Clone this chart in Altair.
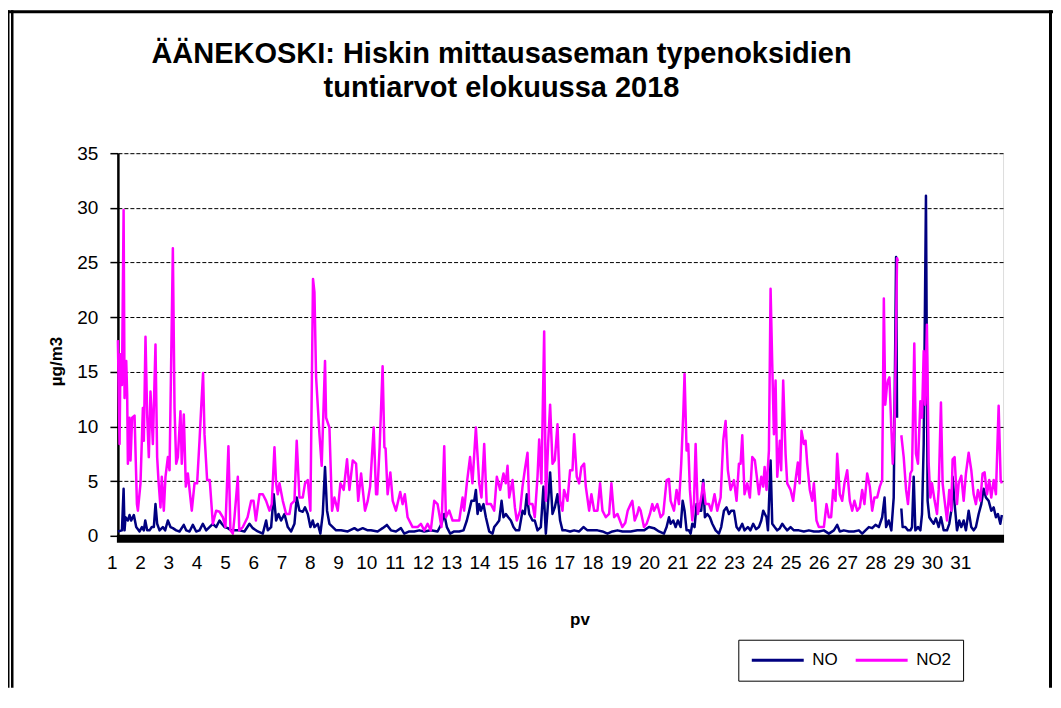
import altair as alt
import pandas as pd

# ---------------- data (hour of month, value µg/m3) ----------------
NO_H = [0, 3.4, 4.8, 5.6, 6.4, 8.4, 9.8, 11.2, 13.4, 15.4, 18.2, 20.2, 21.8, 23, 24.6, 26.6, 28.5, 30.2, 31.6, 33, 35, 37.8, 39.7, 42, 44.2, 46.2, 49, 51.8, 55.4, 57.4, 60.2, 63, 65.8, 68.6, 71.4, 74.2, 77, 79.8, 82.6, 85.4, 87.3, 89.6, 92.4, 95.2, 99.4,
        102.2, 106.4, 110.6, 113.4, 117.6, 121.8, 124.6, 126, 128.8, 131, 133, 135, 137.2, 140, 142.8, 145.6, 148.4, 150.3, 152.6, 155.4, 157.3, 159.6, 161.8, 163.8, 165.2, 168, 170.2, 172.2, 174.1, 175.8, 177.8, 180.6, 183.4, 187.6, 193.2, 198.8, 201.6, 205.8, 210,
        212.7, 218.3, 222.5, 226.1, 229.5, 233.7, 237.9, 240.7, 244.9, 249.1, 253.3, 257.5, 263.1, 268.7, 272, 274.3, 276.5, 279.3, 282.7, 286.9, 290.5, 293.3, 295.3, 297.2, 299.5, 300.9, 302.3, 303.7, 305.1, 307.3, 309.3, 312.1, 314.9,
        316.3, 318.5, 320.5, 322.5, 324.1, 326.1, 328.1, 330.3, 332.5, 334.5, 337.3, 340.1, 342, 343.7, 345.7, 348.5, 350.4, 352.7, 355.5, 357.7, 359.7, 361.1, 363.3, 365.3, 367.2, 369.5, 371.7, 373.7, 376.5, 380.1, 383.5, 387.7, 391.3, 394.7, 398.9, 403.1, 407.3, 411.5, 415.7, 419.9, 424.1,
        428.3, 431, 436.6, 442.2, 446.4, 450.6, 454.8, 459, 461.2, 463.2, 464.6, 466.8, 468.8, 470.7, 473, 474.7, 476.3, 478, 480, 481.4, 482.8, 484.7, 486.4, 488.4, 490.3, 492, 493.4, 495.4, 497.6, 499.6, 502.4, 505.2, 507.1, 509.4, 511.6, 513.6, 515.5, 517.8, 520, 522, 524.8, 526.7, 529.5, 531.7, 534, 536.4,
        538.8, 540.8, 542.4, 543.8, 545.2, 546.4, 548.6, 550, 552, 554.2, 556.4, 558.4, 560.3, 562.6, 565.4, 568.2, 572.4, 576.6, 580.8, 585, 589.2, 593.4, 597.6, 601.8, 604.6, 606.8, 610.2, 614.4, 618.6, 622.8, 625.6, 628.4, 631.2, 634, 636.8, 639.6, 642.4, 644.4, 645.7, 647.9, 650.1, 652.1, 654.1, 654.9,
        658.5, 659.6, 661.9, 664.1, 666.1, 667.5, 668.9, 670.3, 672.5, 674.5, 675.9, 677.3, 679.2, 680.6, 682, 683.7, 685.7, 687.6, 689.9, 691.8, 694.1, 696.9, 698.8, 700.5, 701.6, 703.3, 705.3, 707.2, 708.9, 710.9, 712.8, 715.1, 717.3, 719.3, 721.2, 723.5, 725.7, 727.7, 729.6, 731.9, 734.1, 736.1, 738, 739.7, 741.7, 743]
NO_V = [0.4, 0.5, 4.3, 0.5, 1.7, 1.4, 1.9, 1.4, 1.9, 0.8, 0.4, 0.8, 0.5, 1.4, 0.5, 0.5, 0.8, 0.8, 2.9, 1.1, 0.5, 0.8, 0.5, 1.4, 0.8, 0.7, 0.5, 0.4, 1.0, 0.5, 0.4, 1.0, 0.4, 0.5, 1.1, 0.5, 0.8, 1.1, 0.8, 1.4, 1.1, 0.8, 0.7, 0.5, 0.5,
        0.5, 0.4, 1.1, 0.7, 0.4, 0.2, 1.4, 0.5, 0.8, 3.8, 1.4, 2.0, 1.4, 2.0, 0.8, 0.4, 1.1, 3.5, 2.3, 2.2, 2.6, 2.0, 0.8, 1.4, 0.8, 1.1, 0.2, 2.0, 6.3, 2.3, 1.1, 0.8, 0.5, 0.5, 0.4, 0.7, 0.5, 0.7, 0.5,
        0.5, 0.4, 0.7, 1.0, 0.5, 0.4, 0.7, 0.2, 0.4, 0.4, 0.5, 0.4, 0.5, 0.4, 1.1, 2.0, 0.8, 0.2, 0.4, 0.4, 0.5, 1.4, 2.3, 3.2, 3.2, 4.2, 2.0, 2.9, 2.3, 2.9, 1.7, 0.4, 0.2,
        0.8, 1.1, 1.4, 3.2, 1.7, 2.0, 1.7, 1.4, 0.8, 0.5, 0.5, 2.3, 2.0, 3.8, 2.0, 1.4, 1.4, 0.5, 0.8, 4.5, 0.2, 2.3, 5.8, 2.0, 2.6, 3.8, 1.4, 0.5, 0.5, 0.4, 0.5, 0.4, 0.8, 0.5, 0.5, 0.5, 0.4, 0.2, 0.4, 0.5, 0.4,
        0.4, 0.4, 0.5, 0.5, 0.8, 0.7, 0.4, 0.2, 0.8, 1.7, 1.1, 1.4, 0.8, 1.4, 0.8, 3.2, 2.3, 0.5, 0.5, 0.2, 1.1, 0.8, 2.9, 2.3, 2.3, 5.1, 1.7, 2.0, 1.7, 1.1, 0.5, 0.2, 0.8, 2.3, 2.6, 2.0, 2.3, 2.3, 0.8, 0.5, 1.1, 0.5, 0.8, 0.5, 1.1, 0.6,
        0.8, 1.4, 2.3, 2.0, 1.7, 0.5, 6.9, 1.1, 0.8, 0.5, 0.7, 1.1, 0.8, 0.5, 0.8, 0.5, 0.5, 0.4, 0.5, 0.4, 0.4, 0.5, 0.2, 0.5, 1.0, 0.4, 0.5, 0.4, 0.4, 0.5, 0.2, 0.5, 0.8, 0.7, 1.0, 0.8, 1.7, 3.5, 0.8, 1.4, 0.5, 3.5, 25.5, 10.8,
        2.5, 0.8, 0.8, 0.5, 0.5, 0.8, 5.4, 0.5, 0.8, 0.5, 2.0, 8.4, 31.1, 3.2, 1.7, 1.4, 1.1, 1.6, 0.8, 1.7, 0.5, 0.5, 1.1, 2.3, 5.4, 2.9, 0.5, 1.4, 0.8, 1.4, 0.5, 2.3, 0.8, 0.5, 0.8, 2.0, 2.9, 4.3, 3.5, 3.2, 2.3, 2.6, 1.7, 2.0, 1.1, 1.9]

NO2_H = [0, 1.4, 2.2, 3.4, 4.8, 5.6, 7, 7.8, 8.4, 9.8, 10.6, 12, 14, 16, 16.8, 19, 21, 21.8, 23.2, 24.6, 26, 27.4, 29.4, 31.6, 33, 34.1, 35.8, 36.9, 38.6, 40, 42, 43.4, 46.2, 47.6, 49, 50.4, 52.6, 53.7, 55.4, 57.1, 58.8, 62.1, 64.4, 66.6, 68.6, 70, 71.6, 72.8, 75, 77.2, 79.8, 82.6, 85.4, 88.2, 90.4, 92.9, 94.6, 96.6,
         98, 100.8, 102, 105, 109, 112, 114, 116, 119, 121.8, 124.6, 127.4, 129.3, 131.6, 133, 134.4, 135.8, 138.6, 141.4, 144.2, 145.6, 148.4, 150.3, 152.6, 155.4, 157.3, 159.6, 161.8, 164, 165.2, 166.6, 169.4, 171.3, 174.1, 175, 177.8, 180, 182, 184.8, 187, 189.8, 192.6, 194.6, 197.4, 200.2, 202, 204.4, 207.7,
         210, 212, 215, 217, 218, 220, 222.5, 224, 225, 226.7, 229, 231, 233.7, 237.3, 239.3, 241.2, 243.5, 247.7, 251.9, 254.7, 257.5, 260.3, 263, 265.9, 268.7, 272, 274.3, 275.7, 278.5, 281.3, 284, 286.9, 289.7, 291, 293.3, 296, 298, 300.9, 303.7, 305.6, 307.9, 310, 313.5,
         316.3, 318.5, 321.3, 324.1, 326, 327.5, 328.9, 331.7, 333.7, 335.3, 338.1, 340.1, 342, 344.3, 345.7, 348.5, 350.4, 352.7, 354.1, 356, 358.3, 359.7, 361.6, 363.3, 365.3, 367.2, 369.5, 371.7, 373.7, 375, 377.9, 380.1, 382.1, 383.5, 385.7, 387.7, 389.6, 391.9, 393.3, 396.1, 398, 400.3, 403.1, 405.3, 407.3, 410.1, 412.9, 414.8, 417.1, 419.9, 424,
         426.5, 428.5, 431, 432.4, 434.4, 436.6, 438, 439.4, 442.2, 444.4, 447.2, 449.2, 450.6, 453.4, 456.2, 458.4, 461.2, 463.2, 464.6, 467.4, 469.6, 471.6, 473.5, 475.2, 476.3, 478, 479.4, 480.8, 482.8, 484.2, 485.6, 487.5, 489.8, 492, 494, 496.8, 498.7, 501.5, 503.8, 506.6, 508.8, 510.8, 512.7, 515, 517.8, 520, 522, 523.4, 524.8, 526.7, 529, 531.2, 533.2, 535.4,
         538.8, 540.8, 542.4, 543.6, 545.2, 547.2, 548.6, 550, 551.4, 552.8, 554.2, 556.4, 557.5, 559.2, 561.2, 562.6, 565.4, 567.6, 569.6, 571.5, 573, 574.6, 576.6, 578, 579.4, 581.6, 583.6, 585, 587.2, 589.2, 593.4, 595.6, 597.6, 599.5, 601.2, 603.2, 604.6, 606.8, 608.8, 610.7, 613, 615.2, 617.2, 619.1, 621.4, 623.6, 625.6, 627.5, 629.8, 632, 634, 635.9, 638.2, 640.4, 642.4,
         643.8, 645, 646.5, 647.3, 648.5, 650.1, 651.3, 653, 654.9, 655.7,
         658.5, 660.5, 662.5, 664.1, 666.1, 667.5, 669.4, 670.8, 672.5, 674.5, 675.9, 677.3, 678.5, 680, 681.5, 682.9, 684.3, 686.5, 688.5, 689.9, 691.8, 693.2, 694.9, 696.9, 698.8, 700.5, 701.6, 703.3, 705.3, 706.7, 708.9, 710.9, 712.8, 715.1, 717.3, 719.3, 721.2, 722.9, 724.9, 726.8, 728.5, 730.5, 732.4, 734.1, 736.1, 738, 740.3, 742, 743]
NO2_V = [17.9, 8.4, 16.6, 13.8, 29.8, 12.6, 16, 12.9, 6.6, 10.8, 6.9, 10.8, 11, 2.9, 2.3, 4.8, 11.7, 8.7, 18.2, 11.1, 7.2, 13.2, 8.4, 17.5, 7.2, 5.1, 2.6, 5.4, 2.3, 5.4, 7.2, 6, 26.3, 11.7, 6.6, 7.2, 11.4, 6.6, 11.1, 4.5, 5.7, 2.3, 4.8, 4.8, 8.7, 11.7, 14.9, 9.3, 5.1, 5.1, 1.1, 2.3, 2.2, 1.7, 0.8, 8.2, 0.5, 0.2,
         1.7, 5.4, 0.5, 0.8, 1.7, 3.2, 3.2, 1.4, 3.8, 3.8, 3.2, 2.3, 2.9, 8.1, 4.8, 3.8, 4.8, 3.2, 2.0, 2.0, 2.9, 3.2, 8.7, 3.5, 3.5, 4.8, 5.1, 2.3, 23.5, 22.3, 14.5, 9.3, 6.4, 16, 10.8, 9.9, 2.3, 3.5, 2.3, 4.8, 4.2, 7.0, 4.2, 6.9, 6.6, 3.2, 5.7, 2.3,
         3.2, 4.5, 9.9, 3.8, 3.8, 8.1, 15.5, 8.1, 8.0, 3.8, 5.8, 3.2, 2.3, 4.0, 2.9, 3.8, 1.7, 0.8, 0.8, 1.1, 0.5, 1.1, 0.5, 3.2, 2.9, 0.8, 8.2, 1.7, 2.3, 1.4, 1.4, 1.4, 3.5, 2.3, 4.8, 7.2, 4.8, 9.9, 4.8, 3.5, 8.4, 2.9, 2.9,
         2.3, 5.4, 4.2, 5.7, 4.8, 6.4, 3.5, 5.1, 2.6, 1.4, 2.3, 4.5, 6.0, 7.6, 2.9, 2.9, 1.7, 5.4, 8.8, 4.8, 18.7, 3.2, 8.4, 12.0, 6.6, 6.9, 10.2, 3.2, 2.3, 4.2, 3.2, 6.0, 6.0, 9.3, 5.4, 4.8, 6.3, 6.6, 4.5, 2.3, 3.8, 2.3, 2.3, 4.8, 2.3, 1.7, 2.0, 4.8, 1.7, 2.0, 0.8,
         1.2, 2.3, 2.9, 3.2, 1.4, 2.0, 2.6, 2.3, 0.8, 1.1, 2.0, 2.9, 2.3, 2.9, 1.7, 2.0, 5.1, 5.2, 3.2, 2.3, 4.2, 2.9, 6.6, 11.1, 14.8, 7.8, 8.4, 4.2, 1.4, 2.9, 8.4, 2.0, 3.2, 4.8, 2.9, 2.9, 2.3, 3.8, 2.3, 3.5, 8.7, 10.5, 6.0, 4.2, 5.1, 3.2, 6.6, 6.6, 9.2, 3.8, 4.8, 3.5, 7.2, 6.9,
         3.8, 5.4, 4.5, 6.3, 4.2, 7.8, 22.6, 15.7, 9.3, 14.2, 5.4, 8.7, 6.0, 14.2, 7.5, 4.8, 4.2, 3.2, 5.1, 6.7, 4.8, 9.6, 8.4, 8.7, 6.6, 4.2, 3.2, 4.8, 1.4, 0.8, 0.8, 2.9, 1.7, 1.7, 4.2, 3.2, 7.5, 3.8, 3.2, 4.8, 6.0, 3.2, 2.3, 3.2, 2.3, 2.6, 4.2, 2.9, 5.7, 4.5, 2.3, 3.5, 3.5, 4.5, 5.1,
         21.7, 12.0, 13.8, 14.2, 14.5, 9.9, 6.6, 10.8, 25.4, 25.1,
         9.2, 7.2, 4.2, 2.9, 5.7, 6.0, 17.6, 7.5, 6.6, 12.3, 10.8, 16.9, 12.0, 19.3, 6.6, 3.5, 4.8, 3.2, 2.0, 4.2, 12.2, 4.8, 3.2, 1.4, 4.2, 2.3, 7.0, 7.2, 2.9, 4.8, 5.5, 3.2, 5.7, 7.6, 6.0, 3.8, 2.9, 4.2, 3.2, 5.7, 5.8, 3.8, 5.1, 3.5, 5.1, 3.8, 11.9, 5.1, 4.8]

GAP_HOUR = 657          # missing hours: line is broken here
SERIES = ["NO", "NO2"]
COLORS = ["#000080", "#FF00FF"]
DAY_LABELS = [str(d) for d in range(1, 32)]
Y_TICKS = [0, 5, 10, 15, 20, 25, 30, 35]
TITLE = ["ÄÄNEKOSKI: Hiskin mittausaseman typenoksidien", "tuntiarvot elokuussa 2018"]

rows = []
for name, hs, vs in (("NO", NO_H, NO_V), ("NO2", NO2_H, NO2_V)):
    for h, v in zip(hs, vs):
        rows.append({"h": h, "v": v, "sarja": name,
                     "seg": name + ("b" if h > GAP_HOUR else "a")})
df = pd.DataFrame(rows)

# day labels, at the hour positions where the original places them
lab_df = pd.DataFrame({"h": [-4.7 + 23.77 * i for i in range(len(DAY_LABELS))],
                       "lab": DAY_LABELS})

W, H = 886, 383
FONT = "Liberation Sans"

lines = alt.Chart(df).mark_line(strokeWidth=2.5, strokeJoin="round", clip=False).encode(
    x=alt.X("h:Q", scale=alt.Scale(domain=[0, 744], nice=False, zero=False),
            axis=alt.Axis(labels=False, ticks=False, domain=False, grid=False,
                          title="pv", titleFont=FONT, titleFontSize=17, titleFontWeight="bold",
                          titleColor="#000", titleX=462, titleY=84, titleBaseline="middle",
                          titleAlign="center")),
    y=alt.Y("v:Q", scale=alt.Scale(domain=[0, 35], nice=False),
            axis=alt.Axis(values=Y_TICKS, grid=True, gridColor="#000", gridDash=[4, 2],
                          gridWidth=1, tickSize=8, tickColor="#000", tickWidth=1.5,
                          domainColor="#000", domainWidth=2.5,
                          labelFontSize=19, labelFont=FONT, labelColor="#000", labelPadding=12,
                          title="µg/m3", titleFont=FONT, titleFontSize=17, titleFontWeight="bold",
                          titleColor="#000", titleX=-61, titleY=208, titleAngle=-90,
                          titleBaseline="middle", titleAlign="center")),
    color=alt.Color("sarja:N", scale=alt.Scale(domain=SERIES, range=COLORS),
                    legend=alt.Legend(orient="none", legendX=621, legendY=487,
                                      direction="horizontal", title=None,
                                      symbolType="stroke", symbolSize=2704,
                                      symbolStrokeWidth=3, clipHeight=17,
                                      labelFontSize=17, labelFont=FONT, labelColor="#000",
                                      labelOffset=7, columnPadding=16, padding=12,
                                      strokeColor="#000", fillColor="white")),
    detail="seg:N",
)

day_text = alt.Chart(lab_df).mark_text(
    font=FONT, fontSize=19, color="#000", baseline="top", align="center", clip=False
).encode(x="h:Q", y=alt.value(H + 18), text="lab:N")

one = pd.DataFrame({"k": [0]})
bar = alt.Chart(one).mark_rect(color="black").encode(
    x=alt.value(-1), x2=alt.value(W + 1), y=alt.value(H - 1), y2=alt.value(H + 7))

frame_top = alt.Chart(one).mark_rect(color="black").encode(
    x=alt.value(-110), x2=alt.value(936), y=alt.value(-143), y2=alt.value(-140))
frame_left1 = alt.Chart(one).mark_rect(color="black").encode(
    x=alt.value(-110), x2=alt.value(-108.5), y=alt.value(-143), y2=alt.value(H + 152))
frame_left2 = alt.Chart(one).mark_rect(color="black").encode(
    x=alt.value(-107), x2=alt.value(-104.5), y=alt.value(-143), y2=alt.value(H + 152))
frame_right = alt.Chart(one).mark_rect(color="black").encode(
    x=alt.value(932), x2=alt.value(935), y=alt.value(-143), y2=alt.value(H + 152))

chart = alt.layer(frame_top, frame_left1, frame_left2, frame_right, lines, bar, day_text).properties(
    width=W, height=H,
    autosize=alt.AutoSizeParams(type="none"),
    padding={"left": 110, "top": 145, "right": 50, "bottom": 152},
    title=alt.TitleParams(text=TITLE, font=FONT, fontSize=29, fontWeight="bold",
                          lineHeight=34, anchor="middle", frame="group", dx=-59,
                          offset=0, dy=93, color="#000"),
).configure_view(stroke="#000", strokeWidth=2.5).configure(background="white")

chart.save("out.html", embed_options={"renderer": "svg", "actions": False})
